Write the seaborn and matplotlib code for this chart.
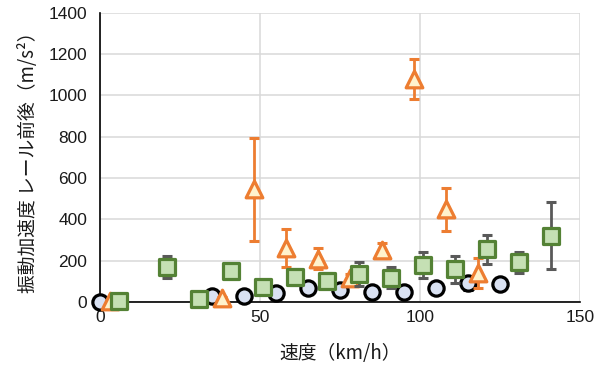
import matplotlib
matplotlib.use("Agg")
import matplotlib.pyplot as plt
import seaborn as sns
import pandas as pd

# Circle series
circ_x = [0, 35, 45, 55, 65, 75, 85, 95, 105, 115, 125]
circ_y = [0, 28, 30, 42, 66, 58, 48, 48, 70, 90, 88]
circ_e = [3, 5, 5, 6, 8, 8, 6, 6, 10, 32, 30]

# Triangle series
tri_x = [3, 38, 48, 58, 68, 78, 88, 98, 108, 118]
tri_y = [3, 20, 545, 262, 210, 115, 250, 1080, 448, 140]
tri_e = [3, 5, 248, 92, 50, 20, 38, 98, 105, 72]

# Square series
sq_x = [6, 21, 31, 41, 51, 61, 71, 81, 91, 101, 111, 121, 131, 141]
sq_y = [5, 170, 15, 148, 75, 122, 104, 136, 118, 180, 158, 255, 192, 320]
sq_e = [3, 55, 5, 8, 10, 40, 35, 60, 52, 64, 67, 71, 50, 162]

x_ticks = [0, 50, 100, 150]
y_ticks = [0, 200, 400, 600, 800, 1000, 1200, 1400]

sns.set_theme(style="whitegrid")
plt.rcParams["font.family"] = ["Liberation Sans", "Noto Sans CJK JP", "DejaVu Sans"]

fig = plt.figure(figsize=(6.06, 3.67), dpi=100)
ax = fig.add_axes([0.165, 0.177, 0.792, 0.788])

series = [
    (circ_x, circ_y, circ_e, "o", "#D9E1F2", "black", "black", 11),
    (tri_x, tri_y, tri_e, "^", "#FFF2CC", "#ED7D31", "#ED7D31", 12),
    (sq_x, sq_y, sq_e, "s", "#C5E0B4", "#548235", "#595959", 11.5),
]

for z, (xs, ys, es, mk, fc, ec, errc, ms) in enumerate(series):
    ax.errorbar(xs, ys, yerr=es, fmt="none", ecolor=errc, elinewidth=2,
                capsize=3.6, capthick=2.2, zorder=3 + 2 * z, clip_on=False)
    df = pd.DataFrame({"x": xs, "y": ys})
    sns.scatterplot(data=df, x="x", y="y", marker=mk, s=ms ** 2,
                    color=fc, edgecolor=ec, linewidth=2.3, ax=ax,
                    zorder=4 + 2 * z, clip_on=False, legend=False)

ax.set_xlim(0, 150)
ax.set_ylim(0, 1400)
ax.set_xticks(x_ticks)
ax.set_yticks(y_ticks)
ax.grid(True, color="#D9D9D9", linewidth=1.1)
ax.set_axisbelow(True)

for side in ["top", "right"]:
    ax.spines[side].set_visible(False)
for side in ["left", "bottom"]:
    ax.spines[side].set_color("black")
    ax.spines[side].set_linewidth(1.2)
    ax.spines[side].set_zorder(2)

ax.tick_params(axis="both", direction="in", length=4, width=1, color="black",
               labelsize=12.5, labelcolor="#1a1a1a")
ax.tick_params(axis="y", pad=9)
ax.tick_params(axis="x", pad=6)

ax.set_xlabel("速度（km/h）", fontsize=13.5, labelpad=13,
              family=["Noto Sans CJK JP"], color="#1a1a1a")
ax.set_ylabel("振動加速度 レール前後（m/s²）", fontsize=13.5, labelpad=7,
              family=["Noto Sans CJK JP"], color="#1a1a1a")

fig.savefig("out.png", dpi=100)
